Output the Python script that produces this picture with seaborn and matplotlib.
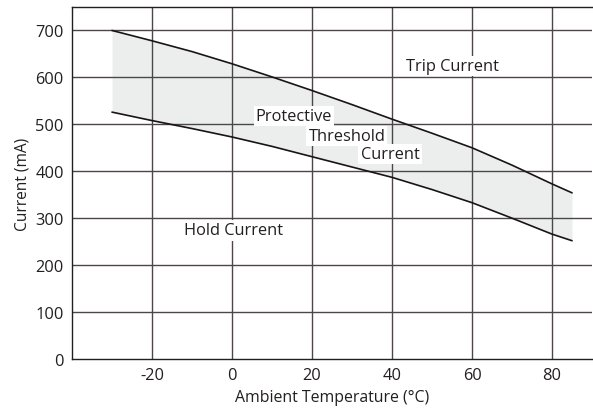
import matplotlib
matplotlib.use("Agg")
import matplotlib.pyplot as plt
import seaborn as sns
import pandas as pd

temps = [-30, -20, -10, 0, 10, 20, 30, 40, 50, 60, 70, 80, 85]
trip_current = [700, 678, 655, 629, 601, 572, 542, 511, 481, 450, 413, 373, 354]
hold_current = [526, 508, 491, 473, 453, 431, 409, 387, 361, 333, 300, 266, 252]

xticks = [-20, 0, 20, 40, 60, 80]
yticks = [0, 100, 200, 300, 400, 500, 600, 700]

sns.set_theme(style="white")
plt.rcParams['font.family'] = ['Open Sans', 'DejaVu Sans']
plt.rcParams['axes.unicode_minus'] = False

df = pd.DataFrame({"temp": temps, "trip": trip_current, "hold": hold_current})

fig = plt.figure(figsize=(5.93, 4.10), dpi=100)
ax = fig.add_axes([0.1214, 0.122, 0.877, 0.8585])

grid_c = "#4d4646"
ax.fill_between(df["temp"], df["hold"], df["trip"], color="#eceeee", lw=0, zorder=1)
for v in xticks:
    ax.axvline(v, color=grid_c, lw=1.0, zorder=2)
for v in yticks[1:]:
    ax.axhline(v, color=grid_c, lw=1.0, zorder=2)

sns.lineplot(data=df, x="temp", y="trip", color="#1a1414", lw=1.2, ax=ax, zorder=3)
sns.lineplot(data=df, x="temp", y="hold", color="#1a1414", lw=1.2, ax=ax, zorder=3)

fs = 11.8
tc = "#231f20"
ax.set_xlim(-40, 90)
ax.set_ylim(0, 750)
ax.set_xticks(xticks)
ax.set_yticks(yticks)
ax.tick_params(axis="both", labelsize=fs, colors=tc, length=0, pad=6)
ax.set_xlabel("Ambient Temperature (°C)", fontsize=fs - 0.4, color=tc, labelpad=4)
ax.set_ylabel("Current (mA)", fontsize=fs - 0.6, color=tc, labelpad=3)

for side in ["left", "bottom", "top"]:
    ax.spines[side].set_visible(True)
    ax.spines[side].set_color(tc)
    ax.spines[side].set_linewidth(1.0)
ax.spines["right"].set_visible(False)

box = dict(facecolor="white", edgecolor="none", pad=1.5)
ax.text(55, 625, "Trip Current", ha="center", va="center", fontsize=fs, color=tc, bbox=box, zorder=4)
ax.text(15.5, 517, "Protective", ha="center", va="center", fontsize=fs, color=tc, bbox=box, zorder=4)
ax.text(28.7, 475, "Threshold", ha="center", va="center", fontsize=fs, color=tc, bbox=box, zorder=4)
ax.text(39.5, 436, "Current", ha="center", va="center", fontsize=fs, color=tc, bbox=box, zorder=4)
ax.text(0.3, 274, "Hold Current", ha="center", va="center", fontsize=fs, color=tc, bbox=box, zorder=4)

fig.savefig("out.png", dpi=100)
